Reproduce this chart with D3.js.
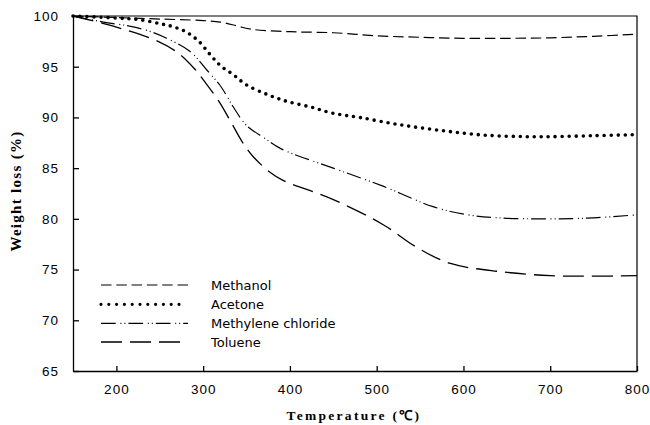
<!DOCTYPE html>
<html lang="en">

<head>
    <meta charset="utf-8">
    <title>Weight loss vs temperature</title>
    <script type="text/javascript" src="https://d3js.org/d3.v7.min.js"></script>
    <style type="text/css">
        body { margin: 0; background: #fff; }
    </style>
</head>

<body>
    <script type="text/javascript">
        //Data
        const seriesNames = ['Methanol', 'Acetone', 'Methylene chloride', 'Toluene'];

        const methanolT = [150, 200, 250, 300, 320, 340, 355, 400, 450, 500, 550, 600, 650, 700, 750, 800];
        const methanolW = [100, 99.85, 99.7, 99.55, 99.4, 99.0, 98.7, 98.45, 98.35, 98.05, 97.9, 97.8, 97.8, 97.85, 98.0, 98.2];

        const acetoneT = [150, 200, 225, 250, 265, 280, 295, 308, 320, 335, 350, 370, 385, 400, 425, 450, 480, 525, 575, 625, 675, 700, 750, 800];
        const acetoneW = [100, 99.8, 99.65, 99.25, 98.95, 98.45, 97.5, 96.2, 95.1, 94.2, 93.2, 92.4, 91.9, 91.5, 91.0, 90.4, 90.0, 89.3, 88.7, 88.25, 88.1, 88.1, 88.2, 88.3];

        const methyleneT = [150, 185, 215, 240, 258, 285, 304, 320, 335, 350, 370, 390, 450, 508, 565, 605, 640, 700, 750, 800];
        const methyleneW = [100, 99.4, 99.0, 98.45, 97.8, 96.5, 94.7, 93.1, 91.0, 89.2, 88.0, 86.9, 85.0, 83.2, 81.2, 80.4, 80.1, 80.0, 80.1, 80.4];

        const tolueneT = [150, 200, 248, 272, 290, 302, 318, 333, 345, 358, 377, 392, 450, 508, 546, 585, 642, 700, 750, 800];
        const tolueneW = [100, 98.9, 97.5, 96.3, 94.8, 93.5, 91.6, 89.4, 87.6, 86.1, 84.6, 83.8, 81.9, 79.4, 77.2, 75.6, 74.8, 74.4, 74.35, 74.4];

        const xTicks = [200, 300, 400, 500, 600, 700, 800];
        const yTicks = [65, 70, 75, 80, 85, 90, 95, 100];

        //Canvas and plot box
        const canvasWidth = 650;
        const canvasHeight = 425;
        const plotLeft = 73, plotRight = 637, plotTop = 16, plotBottom = 371;

        const xScale = d3.scaleLinear().domain([150, 800]).range([plotLeft, plotRight]);
        const yScale = d3.scaleLinear().domain([65, 100]).range([plotBottom, plotTop]);

        //Line styles per series
        const styles = [
            { dash: '10.5,4.8', width: 1.2, cap: 'butt' },
            { dash: '0,7', width: 3.6, cap: 'round' },
            { dash: '14.7,4.7,1,3,1,3', width: 1.2, cap: 'butt' },
            { dash: '21,8', width: 1.3, cap: 'butt' }
        ];

        const series = [
            d3.zip(methanolT, methanolW),
            d3.zip(acetoneT, acetoneW),
            d3.zip(methyleneT, methyleneW),
            d3.zip(tolueneT, tolueneW)
        ];

        const svg = d3.select('body')
            .append('svg')
            .attr('width', canvasWidth)
            .attr('height', canvasHeight);

        const line = d3.line()
            .x(d => xScale(d[0]))
            .y(d => yScale(d[1]))
            .curve(d3.curveCatmullRom.alpha(0.5));

        //Curves
        svg.append('g')
            .selectAll('path')
            .data(series)
            .enter()
            .append('path')
            .attr('d', line)
            .attr('fill', 'none')
            .attr('stroke', 'black')
            .attr('stroke-width', (d, i) => styles[i].width)
            .attr('stroke-dasharray', (d, i) => styles[i].dash)
            .attr('stroke-linecap', (d, i) => styles[i].cap);

        //Axes with inward ticks
        const bottomAxis = d3.axisBottom(xScale)
            .tickValues(xTicks)
            .tickSizeInner(-5)
            .tickSizeOuter(0)
            .tickPadding(13);

        const leftAxis = d3.axisLeft(yScale)
            .tickValues(yTicks)
            .tickSizeInner(-6)
            .tickSizeOuter(0)
            .tickPadding(14);

        const gx = svg.append('g')
            .attr('transform', 'translate(0,' + plotBottom + ')')
            .call(bottomAxis);

        const gy = svg.append('g')
            .attr('transform', 'translate(' + plotLeft + ',0)')
            .call(leftAxis);

        [gx, gy].forEach(g => {
            g.selectAll('text')
                .attr('font-family', '"Liberation Sans", Arial, sans-serif')
                .attr('font-size', 13.5)
                .attr('letter-spacing', 1)
                .attr('fill', 'black');
            g.selectAll('line, path').attr('stroke', 'black').attr('stroke-width', 1.3);
        });

        //Frame top and right
        svg.append('path')
            .attr('d', 'M' + plotLeft + ',' + plotTop + 'H' + plotRight + 'V' + plotBottom)
            .attr('fill', 'none')
            .attr('stroke', 'black')
            .attr('stroke-width', 1.2);

        //Legend
        const legend = svg.append('g');
        const legendY = [285, 304.3, 323.3, 342];
        const legendEnd = [188, 182, 188, 181];
        seriesNames.forEach((name, i) => {
            legend.append('line')
                .attr('x1', 101).attr('x2', legendEnd[i])
                .attr('y1', legendY[i]).attr('y2', legendY[i])
                .attr('stroke', 'black')
                .attr('stroke-width', i === 1 ? 3.2 : styles[i].width)
                .attr('stroke-dasharray', i === 1 ? '0,7.8' : styles[i].dash)
                .attr('stroke-linecap', styles[i].cap);
            legend.append('text')
                .attr('x', 211)
                .attr('y', legendY[i] + 5)
                .attr('font-family', '"DejaVu Sans", Verdana, sans-serif')
                .attr('font-size', 13)
                .text(name);
        });

        //Axis titles
        svg.append('text')
            .attr('text-anchor', 'middle')
            .attr('x', 354)
            .attr('y', 420)
            .attr('font-family', '"Liberation Serif", "Times New Roman", serif')
            .attr('font-weight', 'bold')
            .attr('font-size', 13.5)
            .attr('letter-spacing', 2.3)
            .text('Temperature (℃)');

        svg.append('text')
            .attr('text-anchor', 'middle')
            .attr('transform', 'translate(21,191) rotate(-90)')
            .attr('font-family', '"Liberation Serif", "Times New Roman", serif')
            .attr('font-weight', 'bold')
            .attr('font-size', 15)
            .attr('letter-spacing', 1.3)
            .text('Weight loss (%)');
    </script>
</body>

</html>
